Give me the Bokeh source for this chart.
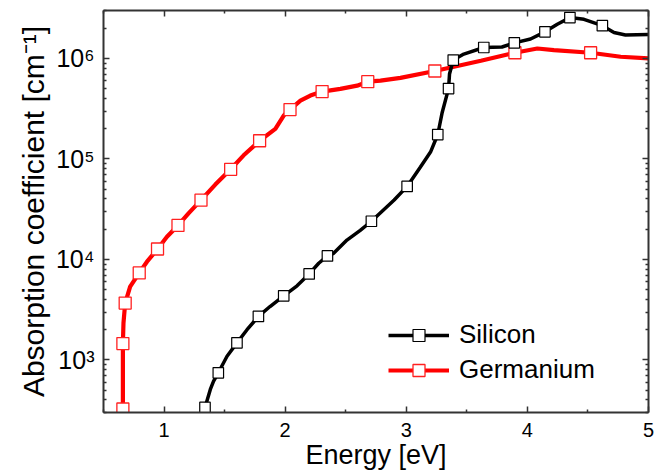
from bokeh.plotting import figure
from bokeh.models import (Range1d, FixedTicker, LinearAxis, LogAxis, Legend, LegendItem,
                          CustomLabelingPolicy, CustomJSTickFormatter)
from bokeh.embed import file_html
from bokeh.resources import INLINE

# ---- data ----
# Silicon: curve points and marker points (energy in eV, absorption in cm^-1)
si_line_E = [1.32, 1.338, 1.382, 1.409, 1.448, 1.52, 1.602, 1.685, 1.779, 1.875, 1.988, 2.098, 2.198,
             2.277, 2.349, 2.40, 2.51, 2.62, 2.712, 2.90, 3.007, 3.117, 3.20, 3.26, 3.297, 3.349,
             3.357, 3.388, 3.475, 3.64, 3.79, 3.892, 4.026, 4.145, 4.247, 4.351, 4.467, 4.619,
             4.715, 4.81, 5.0]
si_line_a = [300, 337, 509, 615, 745, 1090, 1480, 2000, 2710, 3400, 4350, 5460, 7180,
             9160, 10840, 11500, 15600, 19500, 24000, 39000, 53300, 83000, 117000, 175000, 292000, 501000,
             700000, 964000, 1.106e6, 1.285e6, 1.3e6, 1.43e6, 1.56e6, 1.84e6, 2.19e6, 2.55e6, 2.45e6, 2.12e6,
             1.81e6, 1.71e6, 1.73e6]
si_mark_E = [1.338, 1.448, 1.602, 1.779, 1.988, 2.198, 2.349, 2.712, 3.007, 3.26, 3.349, 3.388,
             3.64, 3.892, 4.145, 4.351, 4.619]
si_mark_a = [337, 745, 1480, 2710, 4350, 7180, 10840, 24000, 53300, 175000, 501000, 964000,
             1.285e6, 1.43e6, 1.84e6, 2.55e6, 2.12e6]

# Germanium
ge_line_E = [0.66, 0.66, 0.665, 0.679, 0.72, 0.795, 0.859, 0.946, 1.024, 1.115, 1.202, 1.305, 1.423,
             1.55, 1.657, 1.789, 1.919, 1.988, 2.04, 2.126, 2.208, 2.305, 2.456, 2.594, 2.682, 2.787,
             2.952, 3.236, 3.616, 3.897, 4.082, 4.219, 4.522, 4.77, 5.0]
ge_line_a = [300, 1455, 2330, 3680, 5370, 7350, 9500, 12700, 16800, 21800, 28700, 38900, 55600,
             78900, 108700, 151700, 199000, 270000, 310000, 380000, 427000, 468000, 498000, 536000, 587000, 601000,
             640000, 750000, 948000, 1.14e6, 1.256e6, 1.21e6, 1.14e6, 1.04e6, 1.0e6]
ge_mark_E = [0.66, 0.66, 0.679, 0.795, 0.946, 1.115, 1.305, 1.55, 1.789, 2.04, 2.305, 2.682,
             3.236, 3.897, 4.522]
ge_mark_a = [325, 1455, 3680, 7350, 12700, 21800, 38900, 78900, 151700, 310000, 468000, 587000,
             750000, 1.14e6, 1.14e6]

x_ticks = [1, 2, 3, 4, 5]
x_minor = [0.5, 1.5, 2.5, 3.5, 4.5]
y_ticks = [1e3, 1e4, 1e5, 1e6]
y_tick_labels = ["10\u00b3", "10\u2074", "10\u2075", "10\u2076"]
y_minor = [k * 10.0 ** d for d in range(2, 7) for k in range(2, 10)]

FONT = "Liberation Sans"
FRAME = "#333333"

p = figure(width=654, height=472, x_range=Range1d(0.5, 5.0), y_range=Range1d(300, 3e6),
           y_axis_type="log", output_backend="svg", toolbar_location=None,
           min_border_left=103, min_border_right=6, min_border_top=10, min_border_bottom=59)
p.outline_line_color = None
p.xgrid.visible = False
p.ygrid.visible = False
p.background_fill_color = "white"
p.border_fill_color = "white"

NO_LABELS = CustomLabelingPolicy(code="""
    for (const i of Array.from(indices.ones())) { indices.unset(i) }
    return indices
""")


def style_axis(ax, labels=True):
    ax.axis_line_color = FRAME
    ax.axis_line_width = 2
    ax.major_tick_line_color = FRAME
    ax.minor_tick_line_color = FRAME
    ax.major_tick_line_width = 1.5
    ax.minor_tick_line_width = 1.5
    ax.major_tick_in = 6
    ax.major_tick_out = 0
    ax.minor_tick_in = 3
    ax.minor_tick_out = 0
    if not labels:
        ax.formatter = CustomJSTickFormatter(code="return ' '")
        ax.major_label_policy = NO_LABELS
        ax.major_label_text_font_size = "1px"
        ax.major_label_standoff = 0
        ax.axis_label = None


xax = p.xaxis[0]
xax.ticker = FixedTicker(ticks=x_ticks, minor_ticks=x_minor)
xax.axis_label = "Energy [eV]"
xax.axis_label_text_font = FONT
xax.axis_label_text_font_size = "27px"
xax.axis_label_text_font_style = "normal"
xax.axis_label_text_color = "black"
xax.axis_label_standoff = 0
xax.major_label_text_font = FONT
xax.major_label_text_font_size = "20px"
xax.major_label_text_color = "black"
xax.major_label_standoff = 10
style_axis(xax)

yax = p.yaxis[0]
yax.ticker = FixedTicker(ticks=y_ticks, minor_ticks=y_minor)
yax.major_label_overrides = {t: l for t, l in zip(y_ticks, y_tick_labels)}
yax.axis_label = "Absorption coefficient [cm\u207b\u00b9]"
yax.axis_label_text_font = FONT
yax.axis_label_text_font_size = "30px"
yax.axis_label_text_font_style = "normal"
yax.axis_label_text_color = "black"
yax.axis_label_standoff = 3
yax.major_label_text_font = FONT
yax.major_label_text_font_size = "25px"
yax.major_label_text_color = "black"
yax.major_label_standoff = 9
style_axis(yax)

top = LinearAxis(ticker=FixedTicker(ticks=x_ticks, minor_ticks=x_minor))
style_axis(top, labels=False)
p.add_layout(top, "above")
right = LogAxis(ticker=FixedTicker(ticks=y_ticks, minor_ticks=y_minor))
style_axis(right, labels=False)
p.add_layout(right, "right")

ge_l = p.line(ge_line_E, ge_line_a, line_color="#ff0000", line_width=4.2)
ge_m = p.scatter(ge_mark_E, ge_mark_a, marker="square", size=12, fill_color="white",
                 line_color="#ff2020", line_width=1.3)
si_l = p.line(si_line_E, si_line_a, line_color="black", line_width=3.5)
si_m = p.scatter(si_mark_E, si_mark_a, marker="square", size=10.5, fill_color="white",
                 line_color="black", line_width=1.2)

legend = Legend(items=[LegendItem(label="Silicon", renderers=[si_l, si_m]),
                       LegendItem(label="Germanium", renderers=[ge_l, ge_m])],
                location=(285, 27), padding=0, margin=0, spacing=4,
                glyph_width=61, glyph_height=30, label_standoff=10,
                label_text_font=FONT, label_text_font_size="26px", label_text_color="black",
                border_line_alpha=0, background_fill_alpha=0)
p.add_layout(legend, "center")

open("out.html", "w").write(file_html(p, INLINE))
